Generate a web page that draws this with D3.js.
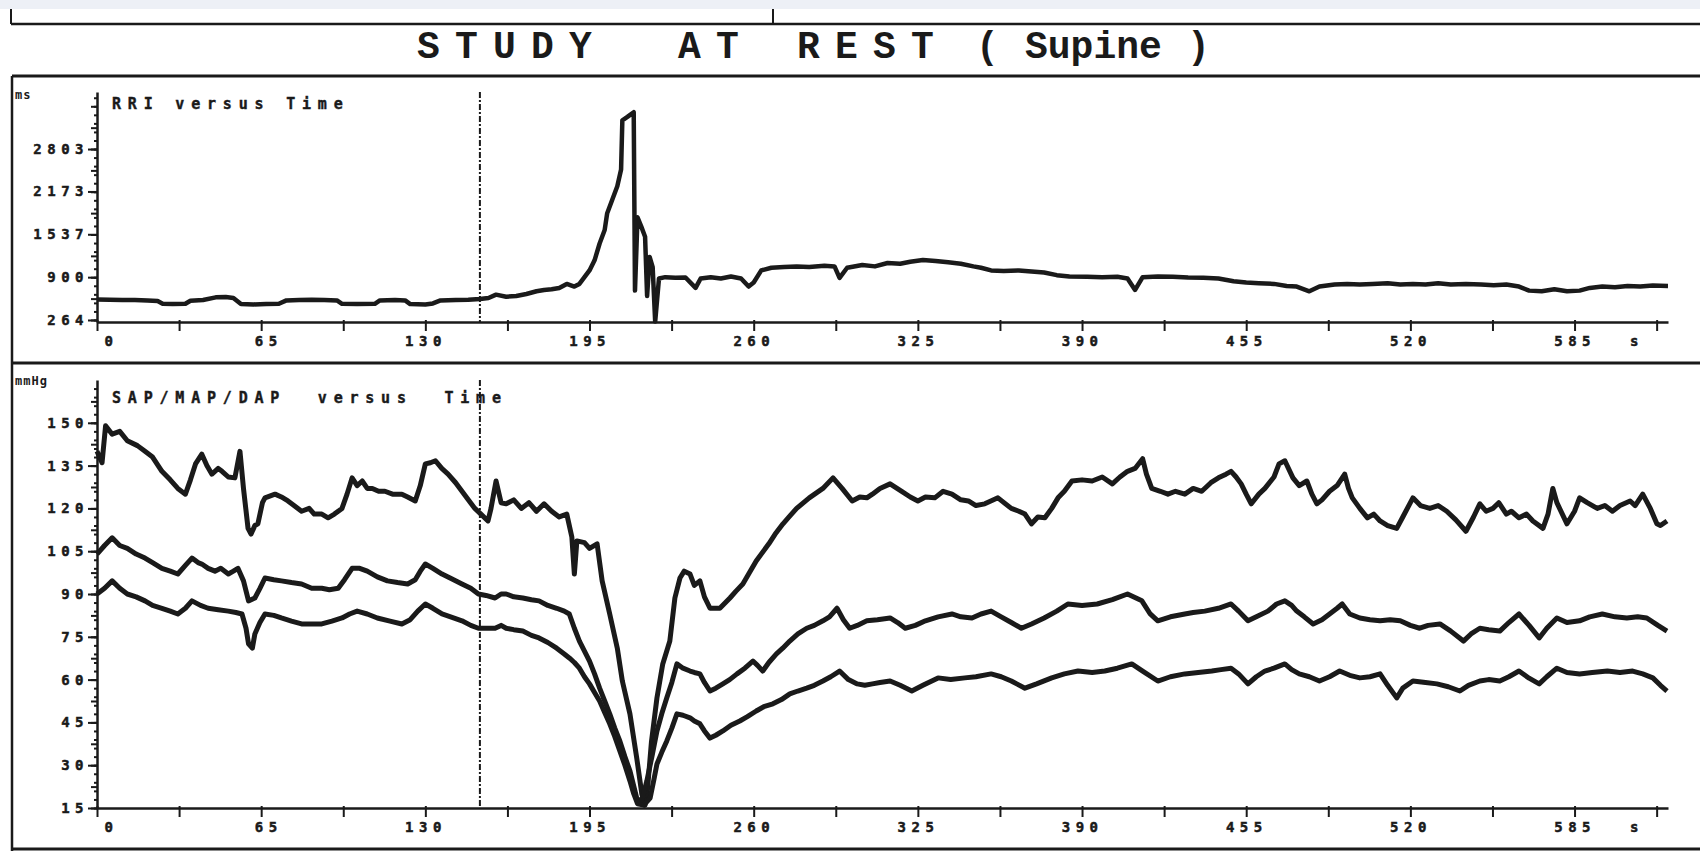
<!DOCTYPE html>
<html lang="en">
<head>
    <meta charset="UTF-8">
    <title>Study at Rest (Supine)</title>
    <style>
        body {
            margin: 0;
            background-color: #FFFFFF;
        }
        #chart svg {
            display: block;
        }
        .tick-label {
            font-family: "DejaVu Sans Mono", monospace;
            font-weight: bold;
            font-size: 14px;
            letter-spacing: 5.5px;
            fill: #1a1a1a;
            stroke: #1a1a1a;
            stroke-width: 0.5px;
        }
        .panel-title {
            font-family: "DejaVu Sans Mono", monospace;
            font-weight: bold;
            font-size: 15px;
            letter-spacing: 6.8px;
            fill: #1a1a1a;
            stroke: #1a1a1a;
            stroke-width: 0.4px;
            white-space: pre;
        }
        .unit {
            font-family: "DejaVu Sans Mono", monospace;
            font-weight: bold;
            font-size: 12px;
            letter-spacing: 1px;
            fill: #1a1a1a;
        }
        .title {
            font-family: "Liberation Mono", "Courier New", monospace;
            font-weight: bold;
            font-size: 38px;
            fill: #1a1a1a;
        }
    </style>
</head>
<body>
    <div id="chart"></div>

    <script src="https://d3js.org/d3.v7.min.js"></script>
    <script>
        // Axis tick labels
        const timeTicks = [0, 65, 130, 195, 260, 325, 390, 455, 520, 585];
        const rriTicks = [264, 900, 1537, 2173, 2803];
        const bpTicks = [15, 30, 45, 60, 75, 90, 105, 120, 135, 150];

        // Tilt marker (s)
        const tiltTime = 151.6;

        // RR interval, [time s, ms]
        const rri = [[0,570],[5,565],[10,560],[15,560],[20,555],[24,545],[26,505],[30,500],[35,505],[37,550],[42,560],[47,600],[51,605],[54,590],[57,500],[62,495],[67,500],[72,505],[75,555],[80,560],[85,565],[90,560],[95,555],[97,505],[103,500],[110,505],[112,555],[118,560],[122,555],[124,500],[130,495],[133,510],[136,555],[142,560],[147,565],[151.6,575],[155,590],[158,640],[162,610],[166,620],[170,650],[174,690],[177,710],[180,720],[183,740],[186,800],[189,760],[191,800],[193,900],[195,1000],[197,1150],[199,1400],[201,1600],[202,1850],[204,2050],[206,2250],[207.5,2500],[208,3230],[210,3280],[212.5,3350],[213,700],[214,1790],[215.5,1650],[217,1500],[217.8,620],[218.8,1200],[220,1050],[221,240],[222.5,880],[225,900],[229,890],[233,895],[237,740],[239,880],[243,900],[247,880],[251,910],[255,880],[258,760],[260,820],[263,1000],[267,1040],[272,1050],[277,1060],[282,1050],[288,1070],[292,1060],[294,890],[297,1040],[303,1080],[308,1060],[313,1110],[318,1100],[322,1130],[327,1155],[332,1140],[337,1120],[342,1100],[347,1060],[350,1040],[354,1000],[359,990],[365,1000],[370,985],[375,970],[380,930],[385,910],[392,905],[398,900],[404,905],[408,880],[411,710],[414,900],[420,910],[426,905],[432,895],[438,890],[444,880],[450,840],[455,820],[460,810],[466,800],[471,770],[475,760],[480,690],[484,760],[490,790],[495,800],[500,790],[505,800],[511,810],[516,790],[521,800],[526,790],[531,810],[536,790],[542,800],[548,790],[553,780],[558,790],[563,760],[567,700],[572,690],[577,720],[582,690],[587,700],[591,740],[596,760],[601,750],[606,770],[611,760],[616,775],[622,770]];

        // Systolic pressure, [time s, mmHg]
        const sap = [[0,140],[2,136],[3.4,149],[6,146],[9,147],[12,143.7],[16,142],[19,140],[22,138],[25.7,133],[29,130],[32,127],[35,125],[37,130],[39,135.6],[41.5,139],[43.5,135],[45.5,132],[48,134],[49.5,133],[52,131],[54.6,130.7],[56.6,140],[58,127],[59.8,113],[61,111],[62.5,114],[63.7,114.6],[65.5,122],[66.5,123.7],[70.5,125],[73,124],[75.6,122.6],[78,121],[81,119],[84,120],[86,118],[89,118],[91.5,116.7],[94,118],[97,120],[99,125],[101,130.7],[103,128],[105,129.6],[107,127],[109,127],[111.5,126],[114,126],[117,125],[120.7,125],[123,124],[126,122.6],[128,128],[130,135.6],[132,136],[134,136.7],[136.5,134],[139,132],[142,129],[144.5,126],[147,123],[149.6,120],[152,118],[154.8,115.6],[156,120],[158,129.6],[160,122],[162,121.6],[165,123],[168,120],[171,122],[174,119],[177,121.6],[180,119],[183,117],[186,118],[188,110],[189,97],[190,108.6],[193,108],[195,106],[198,107.6],[200,94.6],[203,83],[206,71],[208,59.5],[211,48],[213.7,32.5],[215.7,20],[217,16],[218,22],[219.5,38],[221.7,53.6],[224,65.5],[226.8,73.5],[228.8,88.6],[230.8,95.6],[232.5,98],[234.8,97],[236.5,93],[238.7,94.6],[240.5,89],[242.7,85],[246.6,85],[250.6,88.6],[253,91],[255.7,93.5],[258,97],[261,101.6],[266,107.6],[268.5,111],[271.6,114.6],[274,117],[277,120],[282,123.7],[287.4,127],[291.4,130.7],[295,127],[299,122.6],[302,124],[304.8,123.7],[307,125],[310,127],[314,128.6],[318.6,126],[322,124],[325,122.6],[328,124],[331.7,123.7],[335,126],[338.5,125],[342,123],[345,122.6],[348,121],[351.5,121.6],[356.7,123.7],[362,120],[365,119],[367.4,118],[370,114.6],[372.5,117],[375.3,116.7],[378,120],[380.5,123.7],[383,126],[386,129.6],[390,130],[394,129.6],[398,131],[402,128.6],[405,131],[408,133],[411,134],[414,137.4],[415.5,132],[417.6,127],[421,126],[424,125],[427,126],[430.7,125],[434,127],[437.4,126],[441,129],[444,130.7],[447,132],[449,133],[451,131],[453,128.6],[455,125],[457,121.6],[460,125],[462.4,127],[466,131],[468,135.6],[470.3,136.7],[473.5,130.7],[476,128],[479,129.6],[481,125],[483,121.6],[485,123],[488,126],[491,128],[494,132],[495.5,127],[497,123.7],[500,120],[503,116.7],[505.5,118],[508,115.6],[511,114],[514.6,113],[517,117],[521,123.7],[524,121],[527.7,120],[531,121],[534.4,119],[538,116],[542,112],[545,117],[547.5,121.6],[550,119],[552.7,120],[555,122],[558,118],[560,119],[563,116.7],[566,118],[568.5,115.6],[572.5,113],[574.5,118],[576.4,127],[578,122],[582,114.6],[585,119],[587,123.7],[590,122],[594,120],[597,121],[600,119],[603,121],[607,122.6],[609,121],[612,125],[615,120],[617.6,114.6],[619,114],[621.6,115.6]];

        // Mean pressure, [time s, mmHg]
        const map = [[0,104],[3,107],[6,109.7],[9,107],[12,106],[15.5,104],[19,102.6],[22,101],[25.7,99],[29,98],[32,97],[35,100],[37.6,102.6],[40,101],[41.5,100.5],[44,99],[46.7,98],[49,99],[52,97],[54,98],[55.8,99],[58,94.6],[60,87.6],[62.5,88.6],[64.5,92],[66.5,95.6],[70,95],[73,94.6],[77,94],[81,93.5],[85,92],[89,92],[92,91.5],[95.5,92],[98,95],[101,99],[104,99],[107,98],[111,96],[115,94.6],[119,94],[123,93.5],[126,95],[128,98],[130,100.5],[133,99],[136.6,97],[140,95.5],[144.5,93.5],[148,92],[151,90],[154,89.5],[157.6,88.6],[160,90],[162,90],[165,89],[168.6,88.6],[172,88],[175,87.6],[178.5,86],[182,85],[185,84],[187,83],[189,78],[191,73.5],[193,70],[195,66.5],[197,62],[199,57],[201,52.5],[203,48],[205,43],[207,38.5],[209,33],[211,28],[213.7,18.5],[215.5,17],[217.7,24.5],[219.7,33],[221.7,42],[223.6,48],[225.6,53.6],[227.6,59],[229.6,65.5],[232,64],[234.8,63],[236.5,62.5],[238.7,62],[240.5,59],[242.7,56],[245,57],[247.8,58.5],[250.5,60],[253.4,62],[256.5,64],[259.7,66.5],[261.5,65],[263.6,63],[266,66],[269,69],[271.5,71],[274.3,73.5],[277.5,76],[281,78],[284,79],[287.4,80.6],[290,82],[293,85],[295.5,81],[298,78],[301,79],[304.8,80.6],[309,81],[314,81.6],[317,80],[320,78],[324,79],[328,80.6],[333,82],[338.5,83],[342,82],[346.4,81.6],[350,83],[354,84],[358,82],[362,80],[366,78],[370,79.5],[375,81.6],[380,84],[384.4,86.5],[390,86],[396,86.5],[402,88],[408,90],[413.7,87.6],[417,83],[420,80.6],[425,82],[430.7,83],[434,83.5],[438.6,84],[444,85],[449,86.5],[452,84],[455.7,80.6],[459,82],[463.6,84],[467,86.5],[470.3,87.6],[473,86],[475,84],[478,82],[481.5,79.5],[485,81],[488,83],[491,85],[493,86.5],[496,83],[500,81.6],[504,81],[508,80.6],[512,81],[516,80.6],[520,79],[523.7,78],[527,79],[531.7,79.5],[536,77],[541,73.5],[544,76],[547.5,78],[551,77.5],[555.4,77],[559,80],[563,83],[567,79],[571,74.6],[574,78],[578,81.6],[582,80],[587,80.6],[591,82],[596,83],[601,82],[605.7,81.6],[610,82],[613.6,81.6],[618,79],[621.6,77]];

        // Diastolic pressure, [time s, mmHg]
        const dap = [[0,90],[3,92],[6,94.6],[9,92],[12,90],[15.5,89],[19,87.6],[22,86],[25.7,85],[29,84],[32,83],[35,85],[37.6,87.6],[41,86],[44,85],[48,84.5],[52,84],[55,83.5],[57.4,83],[59,78],[60,72.5],[61.5,71],[62.5,76],[64.5,80],[66.5,83],[70,82.5],[73,81.6],[77,80.5],[81,79.5],[85,79.5],[89,79.5],[93,80.5],[97,81.6],[100,83],[103,84],[107,83],[111,81.6],[116,80.5],[120.7,79.5],[124,81],[127,84],[130,86.5],[133,85],[136.6,83],[140,82],[144.5,80.6],[148,79],[151,78],[154,78],[157.6,78],[160,79],[162,78],[165,77.5],[168.6,77],[172,75.5],[175,74.6],[178.5,73],[182,71],[185,69],[187,67.6],[189,66],[191,64],[193,61],[195,58.5],[197,55.5],[199,52.5],[201,48.5],[203,44.5],[205,40],[207,35],[209,30],[211,24.5],[212.5,20],[214,16.5],[216.5,16],[219,18.5],[220.5,25],[221.7,30.4],[223.6,34.5],[225.6,38.5],[227.6,43],[229.6,48],[232,47.5],[234.8,46.6],[236.5,45.5],[238.7,44.5],[240.5,42],[242.7,39.5],[245,40.5],[247.8,42],[251,44],[254.5,45.5],[257.5,47],[261,49],[264,50.5],[267.6,51.5],[271,53],[274.3,55],[277.5,56],[281,57],[284,58],[287.4,59.5],[290.5,61],[294,63],[297.5,60],[301,58.5],[304,58],[307,58.5],[310,59],[314,59.5],[318,58],[322.6,56],[327,58],[333,60.6],[338,60],[343.6,60.6],[348,61],[354,62],[358,61],[362,59.5],[367.4,57],[372,58.5],[378,60.6],[383,62],[388.4,63],[394,62.5],[399,63],[404,64],[409.7,65.5],[414,63],[420,59.5],[425,61],[430.7,62],[436,62.5],[441.4,63],[445,63.5],[449,64],[452,62],[455.7,58.5],[459,61],[462.4,63],[466,64],[470.3,65.5],[473,63.5],[476,62],[480,61],[484,59.5],[488,61],[492,63],[496,61.5],[500,60.6],[504,61],[508,62],[511,58],[514.6,53.6],[517,57],[521,59.5],[526,59],[530.5,58.5],[535,57.5],[539.6,56],[543,58],[547.5,59.5],[551,60],[555.4,59.5],[559,61],[563,63],[567,60.5],[571,58.5],[574,61],[578,64],[582,62.5],[587,62],[592,62.5],[598,63],[603,62.5],[608,63],[612,62],[616,60.6],[619,58],[621.6,56]];

        const width = 1700;
        const height = 851;
        const ink = "#1a1a1a";

        const svg = d3.select("#chart")
            .append("svg")
            .attr("width", width)
            .attr("height", height);

        // light band at the very top of the scan
        svg.append("rect")
            .attr("x", 0).attr("y", 0)
            .attr("width", width).attr("height", 9)
            .attr("fill", "#edf0f6");

        // Frame lines of the printout
        const frame = svg.append("g")
            .attr("stroke", ink)
            .attr("fill", "none");
        frame.append("line").attr("x1", 11).attr("x2", width).attr("y1", 24).attr("y2", 24).attr("stroke-width", 2.5);
        frame.append("line").attr("x1", 11).attr("x2", 11).attr("y1", 9).attr("y2", 24).attr("stroke-width", 2);
        frame.append("line").attr("x1", 773).attr("x2", 773).attr("y1", 9).attr("y2", 24).attr("stroke-width", 2);
        frame.append("line").attr("x1", 12).attr("x2", width).attr("y1", 76).attr("y2", 76).attr("stroke-width", 3);
        frame.append("line").attr("x1", 12).attr("x2", width).attr("y1", 363).attr("y2", 363).attr("stroke-width", 3);
        frame.append("line").attr("x1", 12).attr("x2", width).attr("y1", 849).attr("y2", 849).attr("stroke-width", 3);
        frame.append("line").attr("x1", 12).attr("x2", 12).attr("y1", 76).attr("y2", height).attr("stroke-width", 2.5);

        // Title
        const titleParts = [
            { text: "STUDY", x: 417, ls: 15.2 },
            { text: "AT", x: 678, ls: 15.2 },
            { text: "REST", x: 797, ls: 15.2 },
            { text: "(", x: 976, ls: 0 },
            { text: "Supine", x: 1025, ls: 0 },
            { text: ")", x: 1187, ls: 0 }
        ];
        svg.selectAll(".title")
            .data(titleParts)
            .join("text")
            .attr("class", "title")
            .attr("x", d => d.x)
            .attr("y", 58)
            .style("letter-spacing", d => d.ls + "px")
            .text(d => d.text);

        // Scales
        const x = d3.scaleLinear().domain([0, 622]).range([97, 1668]);
        const yR = d3.scaleLinear().domain([234, 3650]).range([322, 92]);
        const yB = d3.scaleLinear().domain([15, 165]).range([808, 380]);

        const halfTimes = d3.range(0, 622, 32.5);

        function drawXAxis(y) {
            const g = svg.append("g").attr("transform", `translate(0,${y})`);
            g.call(d3.axisBottom(x)
                .tickValues(halfTimes)
                .tickSize(9)
                .tickSizeOuter(0)
                .tickFormat(d => timeTicks.includes(d) ? d : ""));
            g.select(".domain").attr("stroke", ink).attr("stroke-width", 2.5);
            g.selectAll(".tick line").attr("stroke", ink).attr("stroke-width", 2).attr("y1", -2);
            g.selectAll(".tick text")
                .attr("class", "tick-label")
                .attr("font-family", null)
                .attr("font-size", null)
                .attr("text-anchor", "end")
                .attr("x", 21)
                .attr("y", 14)
                .attr("dy", "0.71em");
            g.append("text")
                .attr("class", "tick-label")
                .attr("x", 1637)
                .attr("y", 14)
                .attr("dy", "0.71em")
                .text("s");
        }

        function drawYAxis(scale, majors, step, top) {
            const lo = majors[0];
            const tiny = d3.range(lo, top, step / 5);
            const half = d3.range(lo, top, step / 2);
            const gTiny = svg.append("g").attr("transform", "translate(97,0)");
            gTiny.call(d3.axisLeft(scale).tickValues(tiny).tickSize(3).tickFormat(""));
            gTiny.select(".domain").remove();
            const gHalf = svg.append("g").attr("transform", "translate(97,0)");
            gHalf.call(d3.axisLeft(scale).tickValues(half).tickSize(6).tickFormat(""));
            gHalf.select(".domain").remove();
            const g = svg.append("g").attr("transform", "translate(97,0)");
            g.call(d3.axisLeft(scale).tickValues(majors).tickSize(9).tickSizeOuter(0).tickFormat(d3.format("d")));
            g.select(".domain").attr("stroke", ink).attr("stroke-width", 2.5);
            g.selectAll(".tick text")
                .attr("class", "tick-label")
                .attr("font-family", null)
                .attr("font-size", null)
                .attr("x", -8);
            svg.selectAll(".tick line").attr("stroke", ink).attr("stroke-width", 2);
        }

        // Top panel: RRI
        drawYAxis(yR, rriTicks, (2803 - 264) / 4, 3650);
        drawXAxis(322);

        // Bottom panel: blood pressure
        drawYAxis(yB, bpTicks, 15, 165);
        drawXAxis(808);

        // Units and panel titles
        svg.append("text").attr("class", "unit").attr("x", 15).attr("y", 99).text("ms");
        svg.append("text").attr("class", "unit").attr("x", 15).attr("y", 385).text("mmHg");
        svg.append("text").attr("class", "panel-title").attr("x", 112).attr("y", 109).text("RRI versus Time");
        svg.append("text").attr("class", "panel-title").attr("x", 112).attr("y", 403).text("SAP/MAP/DAP  versus  Time");

        // Tilt marker lines
        [[92, 322], [380, 808]].forEach(([y1, y2]) => {
            svg.append("line")
                .attr("x1", x(tiltTime)).attr("x2", x(tiltTime))
                .attr("y1", y1).attr("y2", y2)
                .attr("stroke", ink)
                .attr("stroke-width", 2)
                .attr("stroke-dasharray", "6,2,2,2");
        });

        // Traces
        const lineR = d3.line().x(d => x(d[0])).y(d => yR(d[1]));
        const lineB = d3.line().x(d => x(d[0])).y(d => yB(d[1]));

        svg.append("path")
            .datum(rri)
            .attr("d", lineR)
            .attr("fill", "none")
            .attr("stroke", ink)
            .attr("stroke-width", 4.5)
            .attr("stroke-linejoin", "round");

        [sap, map, dap].forEach(series => {
            svg.append("path")
                .datum(series)
                .attr("d", lineB)
                .attr("fill", "none")
                .attr("stroke", ink)
                .attr("stroke-width", 5)
                .attr("stroke-linejoin", "round");
        });
    </script>
</body>
</html>
